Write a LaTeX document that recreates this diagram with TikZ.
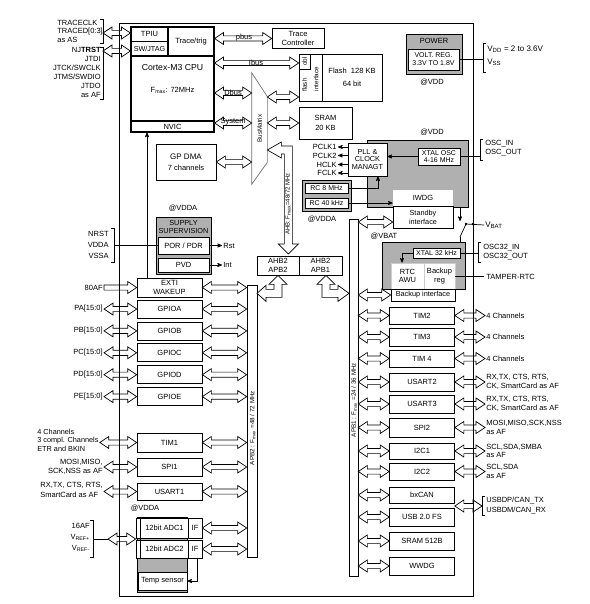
\documentclass[tikz,border=0pt]{standalone}
\usepackage{fontspec}
\setmainfont{Liberation Sans}
\usetikzlibrary{arrows,calc,positioning}

\definecolor{boxgray}{RGB}{176,176,176}

\tikzset{
  blk/.style={draw, fill=white, inner sep=0pt, align=center},
  core/.style={blk, line width=1.1pt},
  grayblk/.style={draw, fill=boxgray, inner sep=0pt},
  per/.style={blk, minimum width=65pt},
  bar/.style={draw, fill=white, inner sep=0pt},
  pin/.style={inner sep=1pt, align=left},
  tiny/.style={font=\fontsize{6.3}{7}\selectfont},
  dbl/.style={draw, fill=white, to path={let \p1=(\tikztostart), \p2=(\tikztotarget) in
    (\x1,\y1) -- (\x1+9pt,\y1+6pt) -- (\x1+9pt,\y1+2.6pt) -- (\x2-9pt,\y1+2.6pt) -- (\x2-9pt,\y1+6pt)
    -- (\x2,\y1) -- (\x2-9pt,\y1-6pt) -- (\x2-9pt,\y1-2.6pt) -- (\x1+9pt,\y1-2.6pt) -- (\x1+9pt,\y1-6pt) -- cycle}},
  sgl/.style={draw, fill=white, to path={let \p1=(\tikztostart), \p2=(\tikztotarget) in
    (\x1,\y1+2.6pt) -- (\x2-9pt,\y1+2.6pt) -- (\x2-9pt,\y1+6pt) -- (\x2,\y1)
    -- (\x2-9pt,\y1-6pt) -- (\x2-9pt,\y1-2.6pt) -- (\x1,\y1-2.6pt) -- cycle}}
}

\begin{document}
\begin{tikzpicture}[x=1pt,y=-1pt,>=stealth',line width=0.7pt,node distance=3.2pt,
    font=\fontsize{7.5}{8.5}\selectfont]
  \useasboundingbox (0,0) rectangle (589,604);

  % core
  \node[core, minimum width=83pt, minimum height=105pt] (cpu) at (172.5,79.5) {};
  \node[core, minimum width=37pt, minimum height=14.5pt] (tpiu) at (149.5,34.25) {TPIU};
  \node[core, minimum width=37pt, minimum height=14.5pt, font=\fontsize{7.2}{8}\selectfont] (swj) at (149.5,48.75) {SW/JTAG};
  \node[core, minimum width=46pt, minimum height=29pt] (trig) at (191,41.5) {Trace/trig};
  \node[core, minimum width=83pt, minimum height=11pt] (nvic) at (172.5,126.5) {NVIC};
  \node[font=\fontsize{8.7}{10}\selectfont] (cpuname) at (172.5,68) {Cortex-M3 CPU};
  \node (cpuf) at (172.5,90) {F\textsubscript{max}: 72MHz};

  % trace / jtag pins
  \node[pin, anchor=west] (trpins) at (56,31) {TRACECLK\\TRACED[0:3]\\as AS};
  \draw (100,19) -- (103,19) -- (103,43) -- (100,43);
  \coordinate (trbr) at (103,33);
  \draw[dbl] (trbr) to (tpiu.west |- trbr);
  \node[pin, anchor=east, align=right, font=\fontsize{7.5}{9}\selectfont] (jtpins) at (102,72.5)
    {NJ\textbf{TRST}\\JTDI\\JTCK/SWCLK\\JTMS/SWDIO\\JTDO\\as AF};
  \draw (100,47) -- (103,47) -- (103,99) -- (100,99);
  \coordinate (jtbr) at (103,51);
  \draw[dbl] (jtbr) to (swj.west |- jtbr);

  % trace controller, flash, sram
  \node[blk, minimum width=52pt, minimum height=20pt] (tracectl) at (298,38.5) {Trace\\Controller};
  \draw[dbl] (trig.east |- tracectl.west) to (tracectl.west);
  \node (pbus) at (244,38) {pbus};
  \node[blk, minimum width=23pt, minimum height=47pt] (flif) at (310.5,77.5) {};
  \node[blk, rotate=90, minimum width=15pt, minimum height=11pt, tiny] (obl) at (304.5,61.5) {obl};
  \node[rotate=90, tiny] (flashtxt) at (304.5,85) {flash};
  \node[rotate=90, tiny] (iftxt) at (316,79) {interface};
  \node[blk, minimum width=60pt, minimum height=47pt] (flash) at (352,77.5) {Flash~~128 KB\\[4pt]64 bit};
  \node[blk, minimum width=53pt, minimum height=32pt] (sram) at (325.5,123) {SRAM\\[2pt]20 KB};

  % bus matrix
  \node[minimum width=15pt, minimum height=111pt, inner sep=0pt] (bm) at (259.5,128.5) {};
  \draw[gray!90!black, fill=white] (bm.north west) -- ([yshift=-24pt]bm.north east)
    -- ([yshift=22pt]bm.south east) -- (bm.south west) -- cycle;
  \node[rotate=90, tiny] (bmtxt) at (bm) {BusMatrix};

  \draw[dbl] (cpu.east |- 0,63) to (flif.west |- 0,63);
  \node (ibus) at (256,63) {Ibus};
  \draw[dbl] (cpu.east |- 0,93) to (bm.west |- 0,93);
  \node (dbus) at (233,93) {Dbus};
  \draw[dbl] (cpu.east |- 0,123) to (bm.west |- 0,123);
  \node (sysbus) at (233,122) {System};
  \draw[dbl] (bm.east |- 0,97) to (flif.west |- 0,97);
  \draw[dbl] (bm.east |- sram.west) to (sram.west);

  \node[blk, minimum width=60pt, minimum height=36pt] (dma) at (186,162)
    {{\fontsize{8}{9}\selectfont GP DMA}\\[3pt]7 channels};
  \draw[dbl] (dma.east) to (bm.west |- dma.east);

  % AHB
  \draw[fill=white] (bm.east |- 0,150) -- ++(14,-8) -- ++(0,4) -- ++(11,0) -- ++(0,98) -- ++(6,0)
    -- ++(-10,10) -- ++(-10,-10) -- ++(6,0) -- ++(0,-90) -- ++(-3,0) -- ++(0,4) -- cycle;
  \node[rotate=90, font=\fontsize{6}{6.5}\selectfont, inner sep=0pt] (ahbtxt) at (288,204) {AHB: F\textsubscript{max}=48/72 MHz};
  \node[blk, minimum width=42pt, minimum height=19pt] (ahb2) at (278,265.5) {AHB2\\APB2};
  \node[blk, minimum width=43pt, minimum height=19pt] (ahb1) at (320.5,265.5) {AHB2\\APB1};

  \node[bar, minimum width=10pt, minimum height=272pt] (apb2) at (252,421) {};
  \node[rotate=90, tiny] (apb2txt) at (252.5,428) {APB2 : F\textsubscript{max} =48 / 72 MHz};
  \node[bar, minimum width=9pt, minimum height=357pt] (apb1) at (353.5,397.5) {};
  \node[rotate=90, tiny] (apb1txt) at (354,400) {APB1 : F\textsubscript{max} =24 / 36 MHz};

  \draw[fill=white] (ahb2.south) -- ++(9,9) -- ++(-5,0) -- ++(0,13) -- ++(-16,0) -- ++(0,4)
    -- ++(-9,-8) -- ++(9,-8) -- ++(0,4) -- ++(8,0) -- ++(0,-5) -- ++(-5,0) -- cycle;
  \draw[fill=white] ([xshift=5.5pt]ahb1.south) -- ++(9,9) -- ++(-5,0) -- ++(0,5) -- ++(8,0) -- ++(0,-4)
    -- ++(11,8) -- ++(-11,8) -- ++(0,-4) -- ++(-16,0) -- ++(0,-13) -- ++(-5,0) -- cycle;

  % power
  \node[grayblk, minimum width=56pt, minimum height=40pt] (power) at (434,54) {};
  \node (powertxt) at (434,41) {POWER};
  \node[blk, minimum width=51pt, minimum height=21pt, font=\fontsize{7}{8}\selectfont] (vreg) at (433.5,59.5) {VOLT. REG.\\3.3V TO 1.8V};
  \node (vdd1) at (432,82) {@VDD};
  \draw (486,43) -- (483,43) -- (483,72) -- (486,72);
  \coordinate (pwrbr) at (483,59.5);
  \draw (vreg.east) -- (pwrbr);
  \node[pin, anchor=west, font=\fontsize{8}{13}\selectfont] (vddpins) at (486,55.5) {V\textsubscript{DD} = 2 to 3.6V\\V\textsubscript{SS}};

  % clocks
  \node (vdd2) at (432,132) {@VDD};
  \node[grayblk, minimum width=101pt, minimum height=67pt] (clk) at (417.5,173.5) {};
  \node[blk, minimum width=39pt, minimum height=33pt, font=\fontsize{7.3}{7.8}\selectfont] (pll) at (367.5,159.5) {PLL \&\\CLOCK\\MANAGT};
  \node[blk, minimum width=42pt, minimum height=17pt, font=\fontsize{7}{7.5}\selectfont] (xtal) at (439,156.5) {XTAL OSC\\4-16 MHz};
  \draw[->] (xtal.west) -- (pll.east |- xtal.west);
  \draw (483,139) -- (480,139) -- (480,160) -- (483,160);
  \coordinate (oscbr) at (480,156.5);
  \draw (xtal.east) -- (oscbr);
  \node[pin, anchor=west, font=\fontsize{7.5}{9}\selectfont] (oscpins) at (484,148.5) {OSC\_IN\\OSC\_OUT};

  \node[pin, anchor=east] (pclk1) at (338,147) {PCLK1};
  \node[pin, anchor=east] (pclk2) at (338,155.5) {PCLK2};
  \node[pin, anchor=east] (hclk) at (338,164.5) {HCLK};
  \node[pin, anchor=east] (fclk) at (338,173) {FCLK};
  \draw[->] (pll.west |- pclk1) -- (pclk1);
  \draw[->] (pll.west |- pclk2) -- (pclk2);
  \draw[->] (pll.west |- hclk) -- (hclk);
  \draw[->] (pll.west |- fclk) -- (fclk);

  \node[blk, draw=none, minimum width=60pt, minimum height=16pt] (iwdg) at (423,198) {IWDG};
  \node[blk, minimum width=60pt, minimum height=22pt, font=\fontsize{7.3}{9}\selectfont] (stby) at (423,217) {Standby\\interface};
  \node[grayblk, minimum width=49pt, minimum height=31pt] (rcgrp) at (326.5,195.5) {};
  \node[blk, minimum width=43pt, minimum height=10pt, font=\fontsize{7}{8}\selectfont] (rc8) at (326.5,188) {RC 8 MHz};
  \node[blk, minimum width=43pt, minimum height=10pt, font=\fontsize{7}{8}\selectfont] (rc40) at (326.5,203) {RC 40 kHz};
  \node (vdda1) at (322,219) {@VDDA};
  \draw[->] (rc8.east) -| ([xshift=10.5pt]pll.south);
  \draw[->] (rc40.east) -- (iwdg.west |- rc40.east);
  \draw[dbl] (apb1.east |- 0,222) to (stby.west |- 0,222);

  % backup domain
  \node (vbatdom) at (384,236) {@VBAT};
  \node[grayblk, minimum width=83pt, minimum height=47pt] (rtcgrp) at (423.5,265.5) {};
  \node[blk, minimum width=47pt, minimum height=10pt, font=\fontsize{7}{8}\selectfont] (xtal32) at (436.5,253) {XTAL 32 kHz};
  \node[blk, draw=gray!40, minimum width=33pt, minimum height=26pt] (rtc) at (407.5,276) {RTC\\AWU};
  \node[blk, draw=gray!40, minimum width=31pt, minimum height=26pt] (bkreg) at (439.5,276) {Backup\\reg};
  \node[blk, minimum width=64pt, minimum height=12pt, font=\fontsize{7.3}{8}\selectfont] (bkif) at (423,295) {Backup interface};
  \draw[->] (xtal32.west) -| ([xshift=-5.5pt]rtc.north);
  \draw (481,242) -- (478,242) -- (478,262) -- (481,262);
  \coordinate (osc32br) at (478,253);
  \draw (xtal32.east) -- (osc32br);
  \node[pin, anchor=west, font=\fontsize{7.5}{9}\selectfont] (osc32pins) at (482,252.5) {OSC32\_IN\\OSC32\_OUT};
  \node[pin, anchor=west, inner sep=2pt] (tamper) at (484,277) {TAMPER-RTC};
  \draw (bkreg.east) -- (tamper.west |- bkreg.east);
  \draw[dbl] (apb1.east |- bkif.west) to (bkif.west);

  \node[pin, anchor=west, font=\fontsize{8}{9}\selectfont] (vbat) at (484,225) {V\textsubscript{BAT}};
  \coordinate (swtop) at (460,221);
  \coordinate (swa) at (466,224);
  \coordinate (swb) at (460,237);
  \draw[->] (swtop |- clk.south) -- (swtop);
  \draw (swb) -- (swa) -- (vbat.west);
  \draw (swb) -- (swb |- rtcgrp.north);
  \fill (swa) circle[radius=1.3pt];
  \fill (swa -| 473,0) circle[radius=1.3pt];

  % APB1 peripherals
  \node[per, minimum height=17pt] (tim2) at (422,315.5) {TIM2};
  \node[per, minimum height=18pt] (tim3) at (422,337) {TIM3};
  \node[per, minimum height=17pt] (tim4) at (422,358.5) {TIM 4};
  \node[per, minimum height=18pt] (usart2) at (422,382) {USART2};
  \node[per, minimum height=18pt] (usart3) at (422,404) {USART3};
  \node[per, minimum height=19pt] (spi2) at (422,427.5) {SPI2};
  \node[per, minimum height=16pt] (i2c1) at (422,451) {I2C1};
  \node[per, minimum height=17pt] (i2c2) at (422,471.5) {I2C2};
  \node[per, minimum height=16pt] (bxcan) at (422,495) {bxCAN};
  \node[per, minimum height=18pt] (usb) at (422,517) {USB 2.0 FS};
  \node[per, minimum height=18pt] (sram2) at (422,541) {SRAM 512B};
  \node[per, minimum height=18pt] (wwdg) at (422,566) {WWDG};

  \draw[dbl] (apb1.east |- tim2.west) to (tim2.west);
  \draw[dbl] (apb1.east |- tim3.west) to (tim3.west);
  \draw[dbl] (apb1.east |- tim4.west) to (tim4.west);
  \draw[dbl] (apb1.east |- usart2.west) to (usart2.west);
  \draw[dbl] (apb1.east |- usart3.west) to (usart3.west);
  \draw[dbl] (apb1.east |- spi2.west) to (spi2.west);
  \draw[dbl] (apb1.east |- i2c1.west) to (i2c1.west);
  \draw[dbl] (apb1.east |- i2c2.west) to (i2c2.west);
  \draw[dbl] (apb1.east |- bxcan.west) to (bxcan.west);
  \draw[dbl] (apb1.east |- usb.west) to (usb.west);
  \draw[dbl] (apb1.east |- sram2.west) to (sram2.west);
  \draw[dbl] (apb1.east |- wwdg.west) to (wwdg.west);

  \node[pin, anchor=west] (tim2pins) at (485,315.5) {4 Channels};
  \node[pin, anchor=west] (tim3pins) at (485,337) {4 Channels};
  \node[pin, anchor=west] (tim4pins) at (485,358.5) {4 Channels};
  \node[pin, anchor=west] (u2pins) at (485,382) {RX,TX, CTS, RTS,\\CK, SmartCard as AF};
  \node[pin, anchor=west] (u3pins) at (485,404) {RX,TX, CTS, RTS,\\CK, SmartCard as AF};
  \node[pin, anchor=west] (spi2pins) at (485,427.5) {MOSI,MISO,SCK,NSS\\as AF};
  \node[pin, anchor=west] (i2c1pins) at (485,451) {SCL,SDA,SMBA\\as AF};
  \node[pin, anchor=west] (i2c2pins) at (485,471.5) {SCL,SDA\\as AF};
  \draw[dbl] (tim2.east) to (tim2pins.west);
  \draw[dbl] (tim3.east) to (tim3pins.west);
  \draw[dbl] (tim4.east) to (tim4pins.west);
  \draw[dbl] (usart2.east) to (u2pins.west);
  \draw[dbl] (usart3.east) to (u3pins.west);
  \draw[dbl] (spi2.east) to (spi2pins.west);
  \draw[dbl] (i2c1.east) to (i2c1pins.west);
  \draw[dbl] (i2c2.east) to (i2c2pins.west);
  \draw (485,496) -- (482,496) -- (482,515) -- (485,515);
  \coordinate (canbr) at (482,505.5);
  \draw[dbl] ($(bxcan.east)!.5!(usb.east)$) to (canbr);
  \node[pin, anchor=west, font=\fontsize{7.5}{10}\selectfont] (canpins) at (485,505.5) {USBDP/CAN\_TX\\USBDM/CAN\_RX};

  % supply supervision
  \node (vdda2) at (183,208) {@VDDA};
  \node[grayblk, minimum width=55pt, minimum height=57pt] (supv) at (183.5,245.5) {};
  \node[align=center, font=\fontsize{7.3}{8}\selectfont] (supvtxt) at (183.5,227) {SUPPLY\\SUPERVISION};
  \node[blk, minimum width=51pt, minimum height=17pt] (por) at (183.5,245.5) {POR / PDR};
  \node[blk, minimum width=51pt, minimum height=14pt] (pvd) at (183.5,265) {PVD};
  \node[pin, anchor=west] (rst) at (222,245.5) {Rst};
  \node[pin, anchor=west] (int) at (222,265) {Int};
  \draw[->] (por.east) -- (rst);
  \draw[->] (pvd.east) -- (int);
  \node[pin, anchor=east, align=right, font=\fontsize{7.5}{11}\selectfont] (suppins) at (110,245) {NRST\\VDDA\\VSSA};
  \draw (111,228) -- (114,228) -- (114,262) -- (111,262);
  \coordinate (supbr) at (114,245.5);
  \draw (supbr) -- (por.west);

  % EXTI and GPIO
  \node[blk, minimum width=65pt, minimum height=19pt] (exti) at (169.5,287.5) {EXTI\\WAKEUP};
  \draw[->] (exti.north -| 147,0) -- (nvic.south -| 147,0);
  \node[pin, anchor=east] (af80) at (104,287.5) {80AF};
  \draw[sgl] (af80.east) to (exti.west);
  \draw[dbl] (exti.east) to (apb2.west |- exti.east);

  \node[blk, minimum width=65pt, minimum height=18pt] (gpioa) at (169.5,309) {GPIOA};
  \node[blk, minimum width=65pt, minimum height=18pt, below=of gpioa] (gpiob) {GPIOB};
  \node[blk, minimum width=65pt, minimum height=18pt, below=of gpiob] (gpioc) {GPIOC};
  \node[blk, minimum width=65pt, minimum height=18pt, below=of gpioc] (gpiod) {GPIOD};
  \node[blk, minimum width=65pt, minimum height=18pt, below=of gpiod] (gpioe) {GPIOE};
  \node[pin, anchor=east] (pa) at (104,0 |- gpioa) {PA[15:0]};
  \node[pin, anchor=east] (pb) at (104,0 |- gpiob) {PB[15:0]};
  \node[pin, anchor=east] (pc) at (104,0 |- gpioc) {PC[15:0]};
  \node[pin, anchor=east] (pd) at (104,0 |- gpiod) {PD[15:0]};
  \node[pin, anchor=east] (pe) at (104,0 |- gpioe) {PE[15:0]};
  \draw[dbl] (pa.east) to (gpioa.west);
  \draw[dbl] (pb.east) to (gpiob.west);
  \draw[dbl] (pc.east) to (gpioc.west);
  \draw[dbl] (pd.east) to (gpiod.west);
  \draw[dbl] (pe.east) to (gpioe.west);
  \draw[dbl] (gpioa.east) to (apb2.west |- gpioa.east);
  \draw[dbl] (gpiob.east) to (apb2.west |- gpiob.east);
  \draw[dbl] (gpioc.east) to (apb2.west |- gpioc.east);
  \draw[dbl] (gpiod.east) to (apb2.west |- gpiod.east);
  \draw[dbl] (gpioe.east) to (apb2.west |- gpioe.east);

  % APB2 peripherals
  \node[blk, minimum width=65pt, minimum height=19pt] (tim1) at (169.5,442.5) {TIM1};
  \node[blk, minimum width=65pt, minimum height=18pt] (spi1) at (169.5,467) {SPI1};
  \node[blk, minimum width=65pt, minimum height=17pt] (usart1) at (169.5,491.5) {USART1};
  \node[pin, anchor=west, font=\fontsize{7.3}{8.5}\selectfont] (tim1pins) at (36,440) {4 Channels\\3 compl. Channels\\ETR and BKIN};
  \node[pin, anchor=east, align=right, font=\fontsize{7.5}{9}\selectfont] (spi1pins) at (104,466.5) {MOSI,MISO,\\SCK,NSS as AF};
  \node[pin, anchor=west, font=\fontsize{7.5}{10}\selectfont] (u1pins) at (39,490) {RX,TX, CTS, RTS,\\SmartCard as AF};
  \draw[dbl] (tim1pins.east |- tim1.west) to (tim1.west);
  \draw[dbl] (spi1pins.east |- spi1.west) to (spi1.west);
  \draw[dbl] (u1pins.east |- usart1.west) to (usart1.west);
  \draw[dbl] (tim1.east) to (apb2.west |- tim1.east);
  \draw[dbl] (spi1.east) to (apb2.west |- spi1.east);
  \draw[dbl] (usart1.east) to (apb2.west |- usart1.east);

  % ADC
  \node (vdda3) at (145,508) {@VDDA};
  \node[grayblk, minimum width=50pt, minimum height=75pt] (adcgrp) at (162,554.5) {};
  \node[blk, minimum width=52pt, minimum height=20pt] (adc1) at (162,528) {\hspace{5pt}12bit ADC1};
  \node[blk, minimum width=14pt, minimum height=20pt] (if1) at (195,528) {IF};
  \node[blk, minimum width=52pt, minimum height=18pt] (adc2) at (162,549) {\hspace{5pt}12bit ADC2};
  \node[blk, minimum width=14pt, minimum height=18pt] (if2) at (195,549) {IF};
  \draw ([xshift=5pt]adc1.north west) -- ([xshift=5pt]adc2.south west);
  \node[blk, minimum width=49pt, minimum height=18pt] (temp) at (162.5,581) {Temp sensor};
  \draw[->] ([xshift=2pt]if2.south) |- (temp.east);
  \node[pin, anchor=east, align=right, font=\fontsize{7.5}{11}\selectfont] (vrefpins) at (91,537)
    {16AF\\V\textsubscript{REF+}\\V\textsubscript{REF-}};
  \draw (90,520) -- (93,520) -- (93,557) -- (90,557);
  \coordinate (vrefbr) at (93,539);
  \coordinate (adcin) at (108,539);
  \draw (vrefbr) -- (adcin);
  \draw[dbl] (adcin) to (adc1.west |- adcin);
  \draw[dbl] (if1.east) to (apb2.west |- if1.east);
  \draw[dbl] (if2.east) to (apb2.west |- if2.east);

  % chip outline
  \draw (119,23) rectangle (473,596);
\end{tikzpicture}
\end{document}
